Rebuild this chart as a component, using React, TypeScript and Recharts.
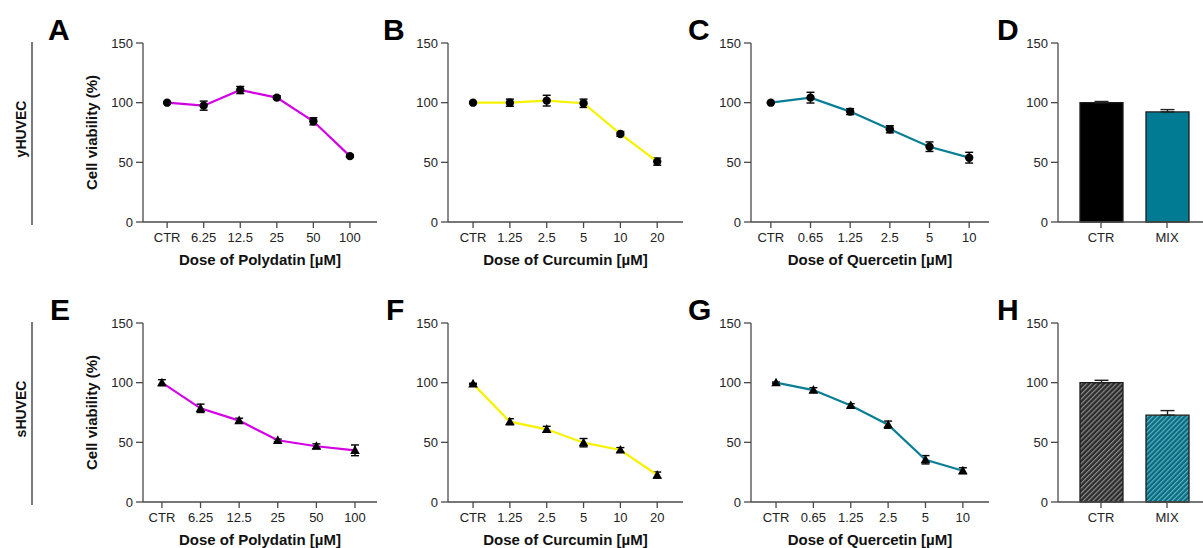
import React from "react";
import { LineChart, Line, BarChart, Bar, Cell, XAxis, YAxis, ErrorBar } from "recharts";

const FONT = "'Liberation Sans', Arial, Helvetica, sans-serif";

// categories
const polydatinDoses = ["CTR", "6.25", "12.5", "25", "50", "100"];
const curcuminDoses = ["CTR", "1.25", "2.5", "5", "10", "20"];
const quercetinDoses = ["CTR", "0.65", "1.25", "2.5", "5", "10"];
const mixGroups = ["CTR", "MIX"];

// yHUVEC (top row), mean and SEM
const yPolyMean = [100, 97.5, 110.6, 104.2, 84.4, 55.2];
const yPolyErr = [0.6, 3.8, 3, 1.5, 3, 1];
const yCurMean = [100, 100, 101.7, 99.5, 73.8, 50.6];
const yCurErr = [0.5, 3, 4.5, 3.5, 2, 3];
const yQueMean = [100, 104.2, 92.5, 77.7, 63.1, 53.9];
const yQueErr = [0.5, 4.5, 2.5, 3, 4, 4.5];
const yMixMean = [100, 92.2];
const yMixErr = [1, 2];

// sHUVEC (bottom row)
const sPolyMean = [100, 78.5, 68.2, 51.7, 46.7, 43.3];
const sPolyErr = [2.5, 3.5, 2, 1, 2, 4.5];
const sCurMean = [99, 67.3, 60.9, 49.7, 43.6, 22.6];
const sCurErr = [0.5, 2.5, 2.5, 3.5, 2, 2.5];
const sQueMean = [100, 93.8, 80.9, 64.8, 35.4, 26.2];
const sQueErr = [0.5, 2, 1.5, 3, 3.5, 2.5];
const sMixMean = [100, 72.8];
const sMixErr = [2, 3.8];

const yTicks = [0, 50, 100, 150];

const MAGENTA = "#d400e4";
const YELLOW = "#f6f200";
const TEAL = "#0a7e95";
const AXIS = "#4a4a4a";

const Y_W = 60;
const M_TOP = 10;
const PLOT_H = 179;
const X_H = 46;

const tickStyle = { fontSize: 13, fill: "#222", fontFamily: FONT };
const titleStyle = { fontSize: 15, fontWeight: 700, fill: "#111", fontFamily: FONT };

function DosePanel({ left, top, width, domain, labels, mean, err, color, marker, xTitle, yTitle }: any) {
  const data = mean.map((v: number, i: number) => ({ x: i, v, e: err[i] }));
  const renderDot = (p: any) =>
    marker === "tri" ? (
      <path key={p.index} d={`M${p.cx},${p.cy - 5}L${p.cx + 4.8},${p.cy + 3.6}L${p.cx - 4.8},${p.cy + 3.6}Z`} fill="#000" />
    ) : (
      <circle key={p.index} cx={p.cx} cy={p.cy} r={4.2} fill="#000" />
    );
  return (
    <div style={{ position: "absolute", left: left - Y_W, top: top - M_TOP }}>
      <LineChart width={Y_W + width} height={M_TOP + PLOT_H + X_H} data={data} margin={{ top: M_TOP, right: 0, bottom: 0, left: 0 }}>
        <XAxis
          dataKey="x"
          type="number"
          domain={domain}
          allowDataOverflow
          ticks={[0, 1, 2, 3, 4, 5]}
          interval={0}
          tickFormatter={(i: number) => labels[i]}
          height={X_H}
          tickSize={6}
          tickMargin={5}
          tick={tickStyle}
          stroke={AXIS}
          strokeWidth={1.3}
          label={{ value: xTitle, position: "insideBottom", offset: 3, style: titleStyle }}
        />
        <YAxis
          domain={[0, 150]}
          ticks={yTicks}
          interval={0}
          width={Y_W}
          tickSize={7}
          tickMargin={3}
          tick={tickStyle}
          stroke={AXIS}
          strokeWidth={1.3}
          label={yTitle ? { value: yTitle, angle: -90, position: "insideLeft", offset: 9, style: { ...titleStyle, textAnchor: "middle" } } : undefined}
        />
        <Line dataKey="v" stroke={color} strokeWidth={2.2} dot={renderDot} activeDot={false} isAnimationActive={false}>
          <ErrorBar dataKey="e" width={4} stroke="#000" strokeWidth={1.4} direction="y" />
        </Line>
      </LineChart>
    </div>
  );
}

function MixPanel({ left, top, mean, err, hatched, id }: any) {
  const width = 145;
  const data = mean.map((v: number, i: number) => ({ g: mixGroups[i], v, e: [0, err[i]] }));
  const fills = hatched ? [`url(#${id}-dark)`, `url(#${id}-teal)`] : ["#000", "#007b93"];
  return (
    <div style={{ position: "absolute", left: left - Y_W, top: top - M_TOP }}>
      <BarChart width={Y_W + width} height={M_TOP + PLOT_H + X_H} data={data} margin={{ top: M_TOP, right: 0, bottom: 0, left: 0 }}>
        <defs>
          <pattern id={`${id}-dark`} patternUnits="userSpaceOnUse" width={3.5} height={3.5} patternTransform="rotate(45)">
            <rect width={3.5} height={3.5} fill="#2b2b2b" />
            <rect width={1.2} height={3.5} fill="#8c8c8c" />
          </pattern>
          <pattern id={`${id}-teal`} patternUnits="userSpaceOnUse" width={3.5} height={3.5} patternTransform="rotate(45)">
            <rect width={3.5} height={3.5} fill="#086b80" />
            <rect width={1.2} height={3.5} fill="#5fb2c2" />
          </pattern>
        </defs>
        <XAxis
          dataKey="g"
          padding={{ left: 10, right: 3 }}
          height={X_H}
          tickSize={6}
          tickMargin={5}
          tick={tickStyle}
          stroke={AXIS}
          strokeWidth={1.3}
          interval={0}
        />
        <YAxis
          domain={[0, 150]}
          ticks={yTicks}
          interval={0}
          width={Y_W}
          tickSize={7}
          tickMargin={3}
          tick={tickStyle}
          stroke={AXIS}
          strokeWidth={1.3}
        />
        <Bar dataKey="v" barSize={43} stroke="#1c1c1c" strokeWidth={1.3} isAnimationActive={false}>
          {data.map((_: any, i: number) => (
            <Cell key={i} fill={fills[i]} />
          ))}
          <ErrorBar dataKey="e" width={7} stroke="#222" strokeWidth={1.4} direction="y" />
        </Bar>
      </BarChart>
    </div>
  );
}

const ROW1 = 43;
const ROW2 = 323;

export default function App() {
  const letter = { fontSize: 30, fontWeight: 700, fill: "#000", fontFamily: FONT } as any;
  const rowLabel = { fontSize: 14, fontWeight: 700, fill: "#111", fontFamily: FONT } as any;
  return (
    <div style={{ position: "absolute", left: 0, top: 0, width: 1203, height: 548, background: "#fff", overflow: "hidden" }}>
      <DosePanel left={143} top={ROW1} width={234} domain={[-0.66, 5.74]} labels={polydatinDoses} mean={yPolyMean} err={yPolyErr} color={MAGENTA} marker="dot" xTitle="Dose of Polydatin [µM]" yTitle="Cell viability (%)" />
      <DosePanel left={448} top={ROW1} width={235} domain={[-0.68, 5.7]} labels={curcuminDoses} mean={yCurMean} err={yCurErr} color={YELLOW} marker="dot" xTitle="Dose of Curcumin [µM]" />
      <DosePanel left={751} top={ROW1} width={238} domain={[-0.5, 5.5]} labels={quercetinDoses} mean={yQueMean} err={yQueErr} color={TEAL} marker="dot" xTitle="Dose of Quercetin [µM]" />
      <MixPanel left={1058} top={ROW1} mean={yMixMean} err={yMixErr} id="d" />

      <DosePanel left={143} top={ROW2} width={234} domain={[-0.49, 5.57]} labels={polydatinDoses} mean={sPolyMean} err={sPolyErr} color={MAGENTA} marker="tri" xTitle="Dose of Polydatin [µM]" yTitle="Cell viability (%)" />
      <DosePanel left={448} top={ROW2} width={235} domain={[-0.68, 5.7]} labels={curcuminDoses} mean={sCurMean} err={sCurErr} color={YELLOW} marker="tri" xTitle="Dose of Curcumin [µM]" />
      <DosePanel left={751} top={ROW2} width={238} domain={[-0.67, 5.7]} labels={quercetinDoses} mean={sQueMean} err={sQueErr} color={TEAL} marker="tri" xTitle="Dose of Quercetin [µM]" />
      <MixPanel left={1058} top={ROW2} mean={sMixMean} err={sMixErr} hatched id="h" />

      <svg width={1203} height={548} style={{ position: "absolute", left: 0, top: 0, pointerEvents: "none" }}>
        <text x={48} y={40} style={letter}>A</text>
        <text x={383} y={40} style={letter}>B</text>
        <text x={688} y={40} style={letter}>C</text>
        <text x={997} y={40} style={letter}>D</text>
        <text x={50} y={320} style={letter}>E</text>
        <text x={386} y={320} style={letter}>F</text>
        <text x={688} y={320} style={letter}>G</text>
        <text x={997} y={320} style={letter}>H</text>
        <line x1={32} y1={42} x2={32} y2={225} stroke="#333" strokeWidth={1.3} />
        <line x1={32} y1={322} x2={32} y2={505} stroke="#333" strokeWidth={1.3} />
        <text x={0} y={0} transform="translate(26,129) rotate(-90)" textAnchor="middle" style={rowLabel}>yHUVEC</text>
        <text x={0} y={0} transform="translate(26,409) rotate(-90)" textAnchor="middle" style={rowLabel}>sHUVEC</text>
      </svg>
    </div>
  );
}
